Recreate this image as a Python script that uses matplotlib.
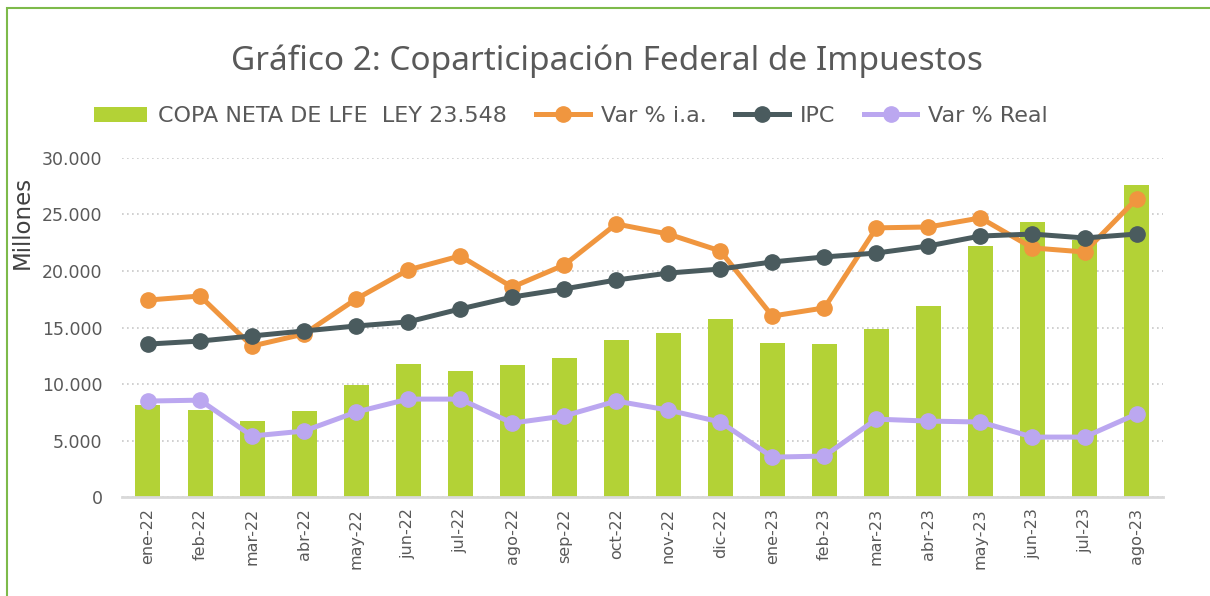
import matplotlib
matplotlib.use('Agg')
from matplotlib import pyplot as plt
from matplotlib.patches import Rectangle

# datos
meses = ['ene-22', 'feb-22', 'mar-22', 'abr-22', 'may-22', 'jun-22', 'jul-22', 'ago-22',
         'sep-22', 'oct-22', 'nov-22', 'dic-22', 'ene-23', 'feb-23', 'mar-23', 'abr-23',
         'may-23', 'jun-23', 'jul-23', 'ago-23']
copa_neta = [8140, 7700, 6725, 7610, 9910, 11770, 11150, 11680, 12300, 13890,
             14510, 15750, 13630, 13540, 14870, 16900, 22210, 24340, 22740, 27610]
var_ia = [80.7, 83.4, 50.2, 58.2, 81.4, 100.7, 110.0, 89.3, 104.0, 131.2,
          124.5, 113.3, 70.1, 75.5, 128.6, 129.2, 135.2, 115.3, 112.6, 147.8]
ipc = [51.5, 53.5, 56.9, 60.2, 63.5, 66.2, 74.8, 82.7, 88.1, 94.0,
       98.6, 101.3, 106.0, 109.3, 111.9, 116.6, 123.2, 124.5, 121.9, 124.5]
var_real = [13.7, 14.3, -9.5, -6.2, 6.4, 15.0, 15.0, -0.9, 3.8, 13.7,
            7.7, -0.2, -23.5, -22.8, 1.7, 0.4, -0.2, -10.2, -10.2, 5.1]

gris = '#595959'
plt.rcParams['font.family'] = ['DejaVu Sans']

fig = plt.figure(figsize=(12.1, 5.96), dpi=100)
ax = fig.add_axes([0.1008, 0.166, 0.86, 0.569])
ax2 = ax.twinx()

x = list(range(len(meses)))
b = ax.bar(x, copa_neta, width=0.48, color='#b3d236', zorder=2,
           label='COPA NETA DE LFE  LEY 23.548')
l1, = ax2.plot(x, var_ia, color='#f0963f', lw=3.6, marker='o', ms=11, label='Var % i.a.')
l2, = ax2.plot(x, ipc, color='#4a5b5e', lw=3.6, marker='o', ms=11, label='IPC')
l3, = ax2.plot(x, var_real, color='#bba7f0', lw=3.6, marker='o', ms=11, label='Var % Real')

ax.set_ylim(0, 30000)
ax.set_xlim(-0.5, len(meses) - 0.5)
ax2.set_ylim(-50, 175)
ax2.axis('off')

ax.set_yticks(range(0, 30001, 5000))
ax.set_yticklabels(['0', '5.000', '10.000', '15.000', '20.000', '25.000', '30.000'])
ax.set_xticks(x)
ax.set_xticklabels(meses, rotation=90)
ax.tick_params(axis='y', length=0, labelsize=12.5, colors=gris, pad=14)
ax.tick_params(axis='x', length=0, labelsize=11.5, colors=gris, pad=8)
ax.yaxis.grid(True, linestyle=(0, (1, 2)), color='#c8c8c8', lw=1.2, zorder=0)
ax.set_axisbelow(True)
for s in ['top', 'right', 'left']:
    ax.spines[s].set_visible(False)
ax.spines['bottom'].set_color('#d9d9d9')
ax.spines['bottom'].set_linewidth(2)
fig.text(0.018, 0.627, 'Millones', rotation=90, ha='center', va='center',
         fontsize=16.5, color='#404040', fontweight='medium')

fig.text(0.502, 0.897, 'Gráfico 2: Coparticipación Federal de Impuestos',
         ha='center', va='center', fontsize=24, color=gris, family='Noto Sans')
fig.legend(handles=[b, l1, l2, l3], loc='center', bbox_to_anchor=(0.472, 0.805),
           ncol=4, frameon=False, fontsize=16, labelcolor=gris,
           handlelength=2.4, columnspacing=1.3, handletextpad=0.5)

# marco verde
fig.add_artist(Rectangle((0.006, -0.02), 1.2, 1.006, transform=fig.transFigure,
                         fill=False, edgecolor='#7dba4a', lw=1.5))

fig.savefig('out.png', dpi=100)
